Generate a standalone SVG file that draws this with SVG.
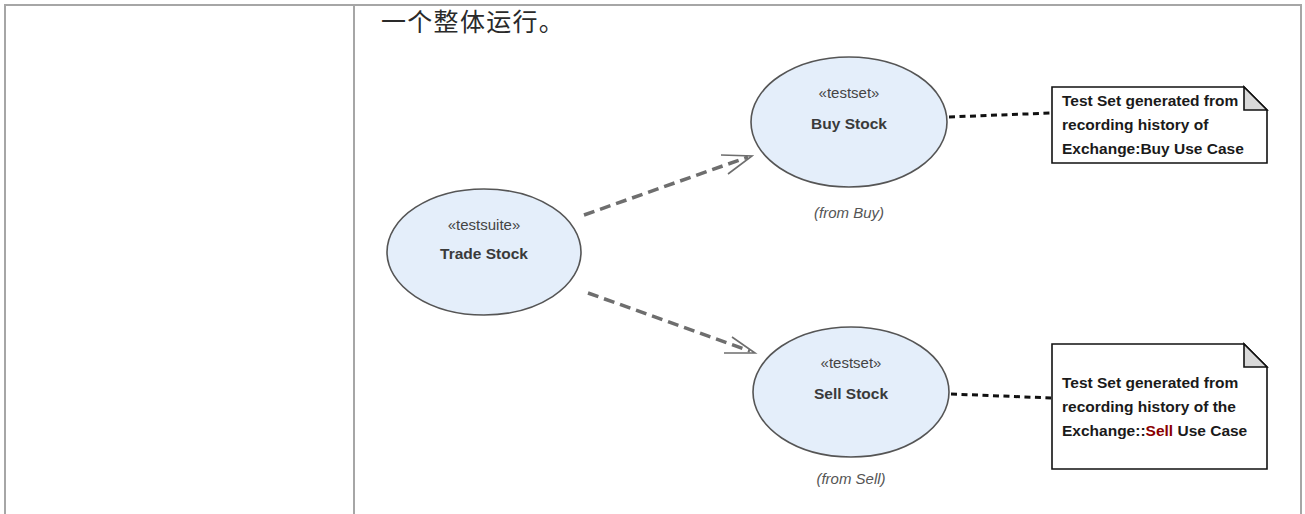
<svg xmlns="http://www.w3.org/2000/svg" width="1305" height="514" viewBox="0 0 1305 514">
<style>
.border{stroke:#a6a6a6;stroke-width:2;fill:none}
.uc{fill:#e4eefa;stroke:#555;stroke-width:1.6}
.st{font-family:"Liberation Sans",Arial,sans-serif;font-size:15px;fill:#444;text-anchor:middle}
.nm{font-family:"Liberation Sans",Arial,sans-serif;font-size:15.5px;font-weight:bold;fill:#3a3a3a;text-anchor:middle}
.fr{font-family:"Liberation Sans",Arial,sans-serif;font-size:15px;font-style:italic;fill:#555;text-anchor:middle}
.note{fill:#fff;stroke:#111;stroke-width:1.6}
.fold{fill:#d9d9d9;stroke:#111;stroke-width:1.6;stroke-linejoin:miter}
.nt{font-family:"Liberation Sans",Arial,sans-serif;font-size:15.5px;font-weight:bold;fill:#1a1a1a}
.dep{stroke:#6e6e6e;stroke-width:3.5;stroke-dasharray:11,6;fill:none}
.head{stroke:#6e6e6e;stroke-width:1.6;fill:none}
.link{stroke:#111;stroke-width:3;stroke-dasharray:6,4.5;fill:none}
</style>
<rect width="1305" height="514" fill="#fff"/>
<g id="table">
<line class="border" x1="4" y1="5" x2="1302" y2="5"/>
<line class="border" x1="5" y1="5" x2="5" y2="514"/>
<line class="border" x1="354" y1="5" x2="354" y2="514"/>
<line class="border" x1="1301" y1="5" x2="1301" y2="514"/>
</g>
<text x="381" y="31" font-family="'Noto Sans CJK SC','Noto Sans',sans-serif" font-size="25" fill="#2a2a2a" letter-spacing="1.3">一个整体运行。</text>
<g id="connectors">
<line class="dep" x1="584" y1="215" x2="748" y2="157"/>
<polyline class="head" points="721,155 752,156 728,174"/>
<line class="dep" x1="588" y1="293" x2="750" y2="351"/>
<polyline class="head" points="732,337 755,353 724,353"/>
<line class="link" x1="949" y1="117" x2="1051" y2="113"/>
<line class="link" x1="951" y1="394" x2="1051" y2="398"/>
</g>
<g id="trade-stock">
<ellipse class="uc" cx="484" cy="252" rx="97" ry="63"/>
<text class="st" x="484" y="230">«testsuite»</text>
<text class="nm" x="484" y="259">Trade Stock</text>
</g>
<g id="buy-stock">
<ellipse class="uc" cx="849" cy="122" rx="98" ry="65"/>
<text class="st" x="849" y="98">«testset»</text>
<text class="nm" x="849" y="129">Buy Stock</text>
<text class="fr" x="849" y="218">(from Buy)</text>
</g>
<g id="sell-stock">
<ellipse class="uc" cx="851" cy="392" rx="98" ry="65"/>
<text class="st" x="851" y="368">«testset»</text>
<text class="nm" x="851" y="399">Sell Stock</text>
<text class="fr" x="851" y="484">(from Sell)</text>
</g>
<g id="note-buy">
<path class="note" d="M1052,87 H1244 L1267,110 V163 H1052 Z"/>
<path class="fold" d="M1244,87 V110 H1267 Z"/>
<text class="nt" x="1062" y="106">Test Set generated from</text>
<text class="nt" x="1062" y="130">recording history of</text>
<text class="nt" x="1062" y="154">Exchange:Buy Use Case</text>
</g>
<g id="note-sell">
<path class="note" d="M1052,344 H1244 L1267,367 V469 H1052 Z"/>
<path class="fold" d="M1244,344 V367 H1267 Z"/>
<text class="nt" x="1062" y="388">Test Set generated from</text>
<text class="nt" x="1062" y="412">recording history of the</text>
<text class="nt" x="1062" y="436">Exchange::<tspan fill="#8b0000">Sell</tspan> Use Case</text>
</g>
</svg>
